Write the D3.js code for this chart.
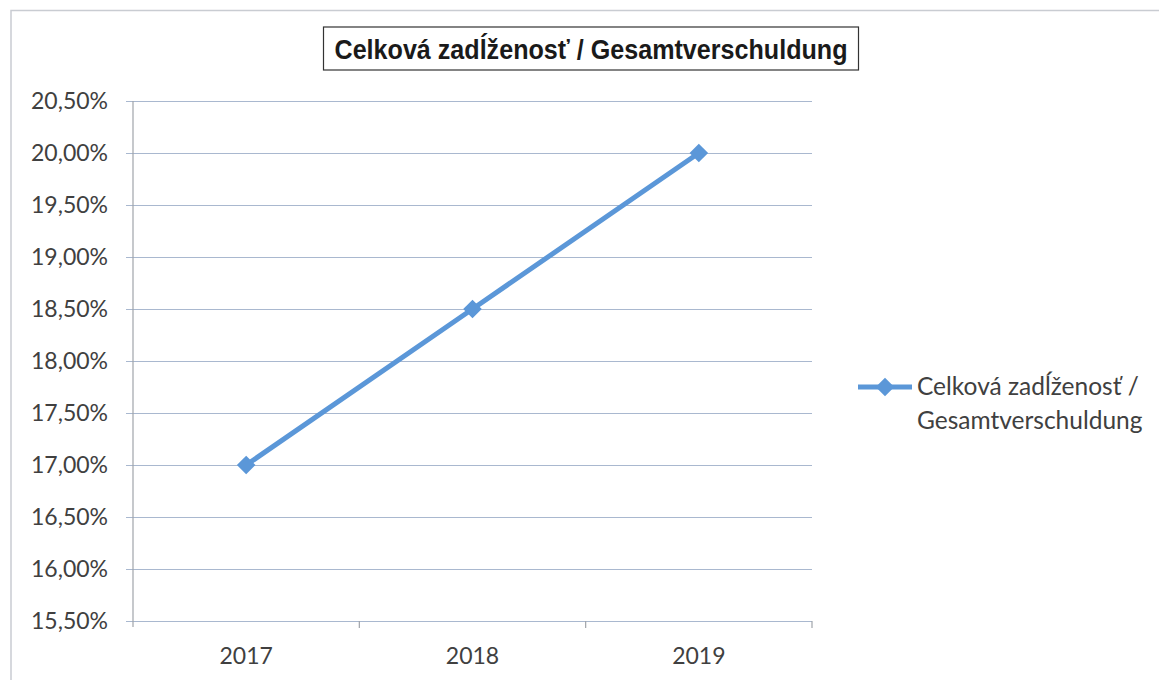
<!DOCTYPE html>
<html>
<head>
<meta charset="utf-8">
<script src="https://cdn.jsdelivr.net/npm/d3@7"></script>
<style>
  body { margin: 0; background: #fff; }
  svg { display: block; }
</style>
</head>
<body>
<svg id="chart"></svg>
<script>
// chart data
const years = ['2017', '2018', '2019'];
const debtShare = [17.0, 18.5, 20.0];
const yTicks = [15.5, 16, 16.5, 17, 17.5, 18, 18.5, 19, 19.5, 20, 20.5];
const titleText = 'Celková zadĺženosť / Gesamtverschuldung';
const legendLines = ['Celková zadĺženosť /', 'Gesamtverschuldung'];

const width = 1159, height = 680;
const margin = { left: 133, right: 347, top: 101, bottom: 59 };
const lineColor = '#5b97d8';
const labelFont = 'Lato, "Open Sans", sans-serif';

const svg = d3.select('#chart')
    .attr('width', width)
    .attr('height', height);

// outer frame (only top and left edges show in the scan)
svg.append('path')
    .attr('d', `M11,${height} V10.5 H${width}`)
    .attr('fill', 'none')
    .attr('stroke', '#c9ccd2')
    .attr('stroke-width', 1.5);

const x = d3.scaleBand()
    .domain(years)
    .range([margin.left, width - margin.right]);

const y = d3.scaleLinear()
    .domain([15.5, 20.5])
    .range([height - margin.bottom, margin.top]);

// gridlines + y labels
const yAxis = svg.append('g')
    .attr('transform', `translate(${margin.left},0)`)
    .call(d3.axisLeft(y)
        .tickValues(yTicks)
        .tickSize(-(width - margin.right - margin.left))
        .tickFormat(d => d.toFixed(2).replace('.', ',') + '%'));
yAxis.select('.domain').remove();
yAxis.selectAll('.tick line')
    .attr('x1', -7)
    .attr('stroke', '#a9b8cf')
    .attr('stroke-width', 1.2);
yAxis.selectAll('.tick text')
    .attr('x', -25)
    .attr('fill', '#404040')
    .style('font-family', labelFont)
    .style('font-size', '23px');

// vertical axis line
svg.append('line')
    .attr('x1', margin.left).attr('x2', margin.left)
    .attr('y1', y(20.5)).attr('y2', y(15.5) + 6)
    .attr('stroke', '#a0a4aa')
    .attr('stroke-width', 1.2);

// category boundary ticks
const bounds = years.map(d => x(d)).concat([x(years[years.length - 1]) + x.bandwidth()]);
svg.append('g')
    .selectAll('line')
    .data(bounds.slice(1))
    .enter().append('line')
    .attr('x1', d => d).attr('x2', d => d)
    .attr('y1', y(15.5)).attr('y2', y(15.5) + 7)
    .attr('stroke', '#a0a4aa')
    .attr('stroke-width', 1.2);

// x labels
svg.append('g')
    .selectAll('text')
    .data(years)
    .enter().append('text')
    .attr('x', d => x(d) + x.bandwidth() / 2)
    .attr('y', height - 16)
    .attr('text-anchor', 'middle')
    .attr('fill', '#404040')
    .style('font-family', labelFont)
    .style('font-size', '23px')
    .text(d => d);

// the series line
const line = d3.line()
    .x((d, i) => x(years[i]) + x.bandwidth() / 2)
    .y(d => y(d));

svg.append('path')
    .datum(debtShare)
    .attr('d', line)
    .attr('fill', 'none')
    .attr('stroke', lineColor)
    .attr('stroke-width', 5);

const diamond = d3.symbol().type(d3.symbolDiamond2).size(220);
svg.append('g')
    .selectAll('path')
    .data(debtShare)
    .enter().append('path')
    .attr('d', diamond)
    .attr('transform', (d, i) => `translate(${x(years[i]) + x.bandwidth() / 2},${y(d)})`)
    .attr('fill', lineColor);

// title with box
const titleG = svg.append('g');
const box = titleG.append('rect')
    .attr('y', 27)
    .attr('height', 43)
    .attr('fill', '#fff')
    .attr('stroke', '#333')
    .attr('stroke-width', 1.2);
const title = titleG.append('text')
    .attr('x', 591)
    .attr('y', 59)
    .attr('text-anchor', 'middle')
    .attr('fill', '#1a1a1a')
    .attr('textLength', 513)
    .attr('lengthAdjust', 'spacingAndGlyphs')
    .style('font-family', '"Liberation Sans Narrow", "Liberation Sans", Arial, sans-serif')
    .style('font-weight', 'bold')
    .style('font-size', '28px')
    .text(titleText);
const tb = title.node().getBBox();
box.attr('x', tb.x - 11).attr('width', tb.width + 22);

// legend
const legend = svg.append('g').attr('transform', 'translate(858,387)');
legend.append('line')
    .attr('x1', 0).attr('x2', 54)
    .attr('stroke', lineColor)
    .attr('stroke-width', 5);
legend.append('path')
    .attr('d', diamond)
    .attr('transform', 'translate(27,0)')
    .attr('fill', lineColor);
legend.append('g')
    .selectAll('text')
    .data(legendLines)
    .enter().append('text')
    .attr('x', 59)
    .attr('y', (d, i) => 8 + i * 34)
    .attr('fill', '#404040')
    .style('font-family', labelFont)
    .style('font-size', '24.5px')
    .text(d => d);
</script>
</body>
</html>
